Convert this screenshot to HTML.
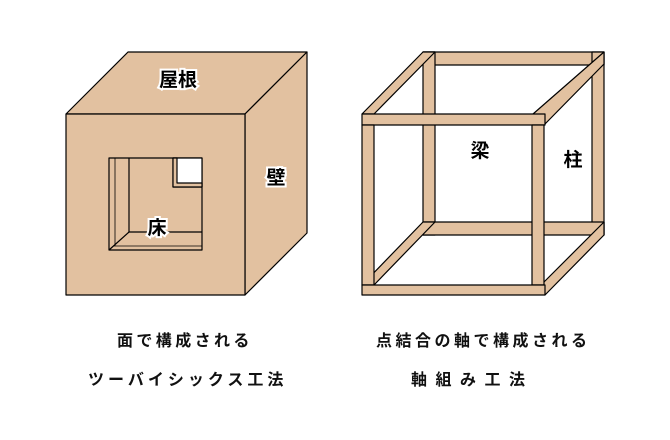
<!DOCTYPE html>
<html><head><meta charset="utf-8"><style>
html,body{margin:0;padding:0;background:#fff;width:670px;height:440px;overflow:hidden}
svg{display:block}
text{font-family:"Liberation Sans","Noto Sans CJK JP",sans-serif;font-weight:bold}
</style></head><body>
<svg width="670" height="440" viewBox="0 0 670 440">
<g stroke="#000" stroke-width="1.2" stroke-linejoin="round">
<polygon points="66,114 128,52 307,52 245,114" fill="#e2c1a0"/>
<polygon points="245,114 307,52 307,233 245,295" fill="#e2c1a0"/>
<rect x="66" y="114" width="179" height="181" fill="#e2c1a0"/>
<rect x="109" y="158" width="93" height="92" fill="#e2c1a0"/>
<polyline points="129,158 129,232 202,232" fill="none"/>
<line x1="109" y1="250" x2="129" y2="232"/>
<line x1="115" y1="158" x2="115" y2="246" stroke-width="0.8"/>
<line x1="113" y1="246" x2="202" y2="246" stroke-width="0.8"/>
<rect x="173" y="158" width="29" height="29" fill="#fff"/>
<polygon points="173,158 177,158 177,183 202,183 202,187 173,187" fill="#e2c1a0"/>
<g fill="#e2c1a0">
<rect x="423" y="52" width="181" height="13"/>
<rect x="423" y="52" width="12" height="183"/>
<rect x="592" y="52" width="12" height="183"/>
<rect x="423" y="222" width="181" height="13"/>
<polygon points="423,52 435,52 374,114 362,114"/>
<polygon points="604,52 604,64 545,124 533,114"/>
<polygon points="423,222 435,222 374,285 362,285"/>
<polygon points="604,222 604,235 545,295 541,285"/>
<rect x="362" y="114" width="183" height="11"/>
<rect x="362" y="125" width="12" height="160"/>
<rect x="532" y="125" width="12" height="160"/>
<rect x="362" y="285" width="183" height="10"/>
</g>
</g>
<g font-size="19" text-anchor="middle" fill="#000" stroke="#fff" stroke-width="4" paint-order="stroke">
<text x="178" y="86">屋根</text>
<text x="276" y="184">壁</text>
<text x="157" y="234">床</text>
<text x="480" y="157" stroke="none">梁</text>
<text x="573" y="166" stroke="none">柱</text>
</g>
<g font-size="16" fill="#111">
<text x="117" y="346" letter-spacing="3.4">面で構成される</text>
<text x="88" y="385" letter-spacing="4">ツーバイシックス工法</text>
<text x="376" y="346" letter-spacing="3.5">点結合の軸で構成される</text>
<text x="411" y="385" letter-spacing="8.5">軸組み工法</text>
</g>
</svg>
</body></html>
